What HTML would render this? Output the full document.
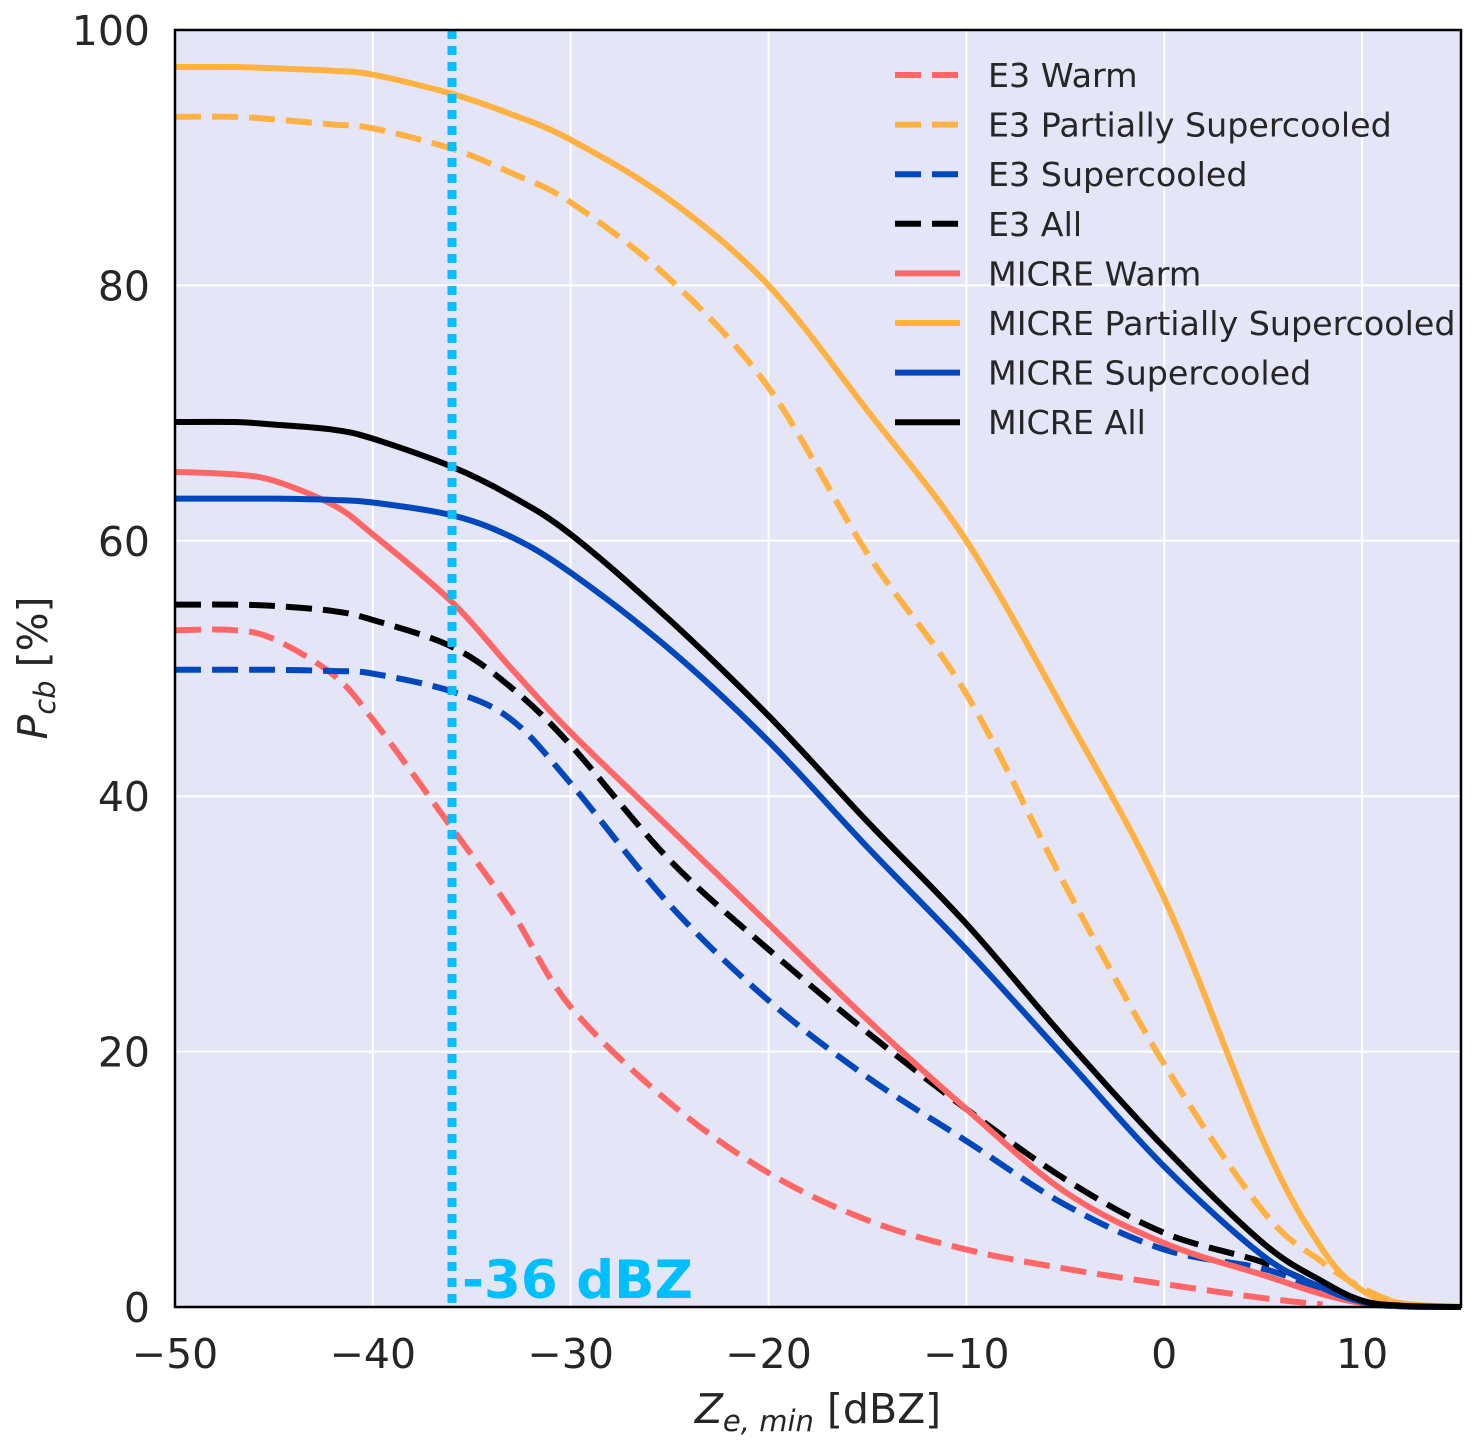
<!DOCTYPE html>
<html><head><meta charset="utf-8"><style>
body{margin:0;background:#fff}
svg text{font-family:"DejaVu Sans","Liberation Sans",sans-serif;fill:#262626}
</style></head><body>
<svg id="chart" width="1476" height="1445" xmlns="http://www.w3.org/2000/svg">
<rect x="175" y="30" width="1286" height="1277" fill="#e5e5f8"/>
<g id="grid"></g>
<g id="series"></g>
<line id="thr" stroke="#00bfff" stroke-width="9" stroke-dasharray="9 7"/>
<text id="thrlabel" font-size="53" font-weight="bold" style="fill:#00bfff">-36 dBZ</text>
<rect x="175" y="30" width="1286" height="1277" fill="none" stroke="#000" stroke-width="2.5"/>
<g id="ticks"></g>
<text x="818" y="1423" font-size="41" text-anchor="middle"><tspan font-style="italic">Z</tspan><tspan font-style="italic" font-size="29" dy="8">e, min</tspan><tspan dy="-8"> [dBZ]</tspan></text>
<text transform="translate(47,668) rotate(-90)" font-size="41" text-anchor="middle"><tspan font-style="italic">P</tspan><tspan font-style="italic" font-size="29" dy="8">cb</tspan><tspan dy="-8"> [%]</tspan></text>
<g id="legend"></g>
</svg>
<script>
const xs = [-50,-47,-45,-42,-40,-36,-33,-30,-25,-20,-15,-10,-5,0,5,8,10,12,15];
const e3Warm = [53,53,52.3,49.5,46,37.5,31,23.5,16,10.5,6.8,4.5,3,1.8,0.7,0.2];
const e3Part = [93.2,93.2,93,92.6,92.3,90.7,88.8,86.5,80.5,72,59,48,33,19,7.5,3.5,1.5,0.3,0];
const e3Sup = [49.9,49.9,49.9,49.8,49.6,48.2,46,41,31.5,24,18,13,8,4.5,3,1.3,0.3,0.05,0];
const e3All = [55,55,54.9,54.5,53.8,51.7,48.5,44,35,28,21.5,15.5,10,5.8,3.5,1.5,0.4,0.05,0];
const micWarm = [65.4,65.2,64.7,62.8,60.5,55.2,50,45,37.5,30,22.5,15.5,9,5,2.5,1,0.3,0.05,0];
const micPart = [97.1,97.1,97,96.8,96.5,95,93.4,91.4,86.7,80,70.2,60,46.5,32,13,4.5,1.3,0.3,0];
const micSup = [63.3,63.3,63.3,63.2,63,62,60.3,57.5,51.5,44.3,36,28,19.5,11,4,1.5,0.4,0.05,0];
const micAll = [69.3,69.3,69.1,68.7,68,65.8,63.5,60.5,53.8,46.3,38,30,21,12.5,5,2,0.5,0.1,0];
const xTicks = [-50,-40,-30,-20,-10,0,10];
const yTicks = [0,20,40,60,80,100];
const threshold = -36;
const names = ["E3 Warm","E3 Partially Supercooled","E3 Supercooled","E3 All","MICRE Warm","MICRE Partially Supercooled","MICRE Supercooled","MICRE All"];
const NS="http://www.w3.org/2000/svg";
const X=v=>175+(v+50)*1286/65, Y=v=>1307-v*12.77;
function mk(t,p,a){const e=document.createElementNS(NS,t);for(const k in a)e.setAttribute(k,a[k]);p.appendChild(e);return e;}
const grid=document.getElementById('grid'),ticks=document.getElementById('ticks');
xTicks.forEach(t=>{const l=mk('line',grid,{x1:X(t),x2:X(t),y1:30,y2:1307,stroke:'#fff','stroke-width':2});

const tx=mk('text',ticks,{x:X(t),y:1368,'font-size':41,'text-anchor':'middle'});tx.textContent=t<0?'\u2212'+(-t):t;
});
yTicks.forEach(t=>{const l=mk('line',grid,{x1:175,x2:1461,y1:Y(t),y2:Y(t),stroke:'#fff','stroke-width':2});

const tx=mk('text',ticks,{x:150,y:Y(t)+15,'font-size':41,'text-anchor':'end'});tx.textContent=t;
});
const thr=document.getElementById('thr');thr.setAttribute('x1',X(threshold));thr.setAttribute('x2',X(threshold));thr.setAttribute('y1',30);thr.setAttribute('y2',1307);
const tl=document.getElementById('thrlabel');tl.setAttribute('x',X(threshold)+10);tl.setAttribute('y',1298);
function path(vals){const p=vals.map((v,i)=>[X(xs[i]),Y(v)]);let d='M'+p[0][0]+','+p[0][1];
for(let i=0;i<p.length-1;i++){const p0=p[i-1]||p[i],p1=p[i],p2=p[i+1],p3=p[i+2]||p2;
d+=' C'+(p1[0]+(p2[0]-p0[0])/6)+','+(p1[1]+(p2[1]-p0[1])/6)+' '+(p2[0]-(p3[0]-p1[0])/6)+','+(p2[1]-(p3[1]-p1[1])/6)+' '+p2[0]+','+p2[1];}return d;}
const red='#ff6666',org='#ffb142',blu='#0047bb',blk='#000';
const defs=[[e3Warm,red,1],[e3Part,org,1],[e3Sup,blu,1],[e3All,blk,1],[micWarm,red,0],[micPart,org,0],[micSup,blu,0],[micAll,blk,0]];
const sg=document.getElementById('series'),lg=document.getElementById('legend');
const slugs=['e3-warm','e3-partial','e3-super','e3-all','micre-warm','micre-partial','micre-super','micre-all'];
defs.forEach((s,i)=>{const a={d:path(s[0]),fill:'none',stroke:s[1],'stroke-width':6,'stroke-linejoin':'round'};if(s[2])a['stroke-dasharray']='26 11';
const p=mk('path',sg,a);
const y=75+i*49.6;const la={x1:895,x2:960,y1:y,y2:y,stroke:s[1],'stroke-width':6};if(s[2])la['stroke-dasharray']='26 11';
const l=mk('line',lg,la);
const t=mk('text',lg,{x:988,y:y+12,'font-size':33.3});t.textContent=names[i];
});
</script>
</body></html>
